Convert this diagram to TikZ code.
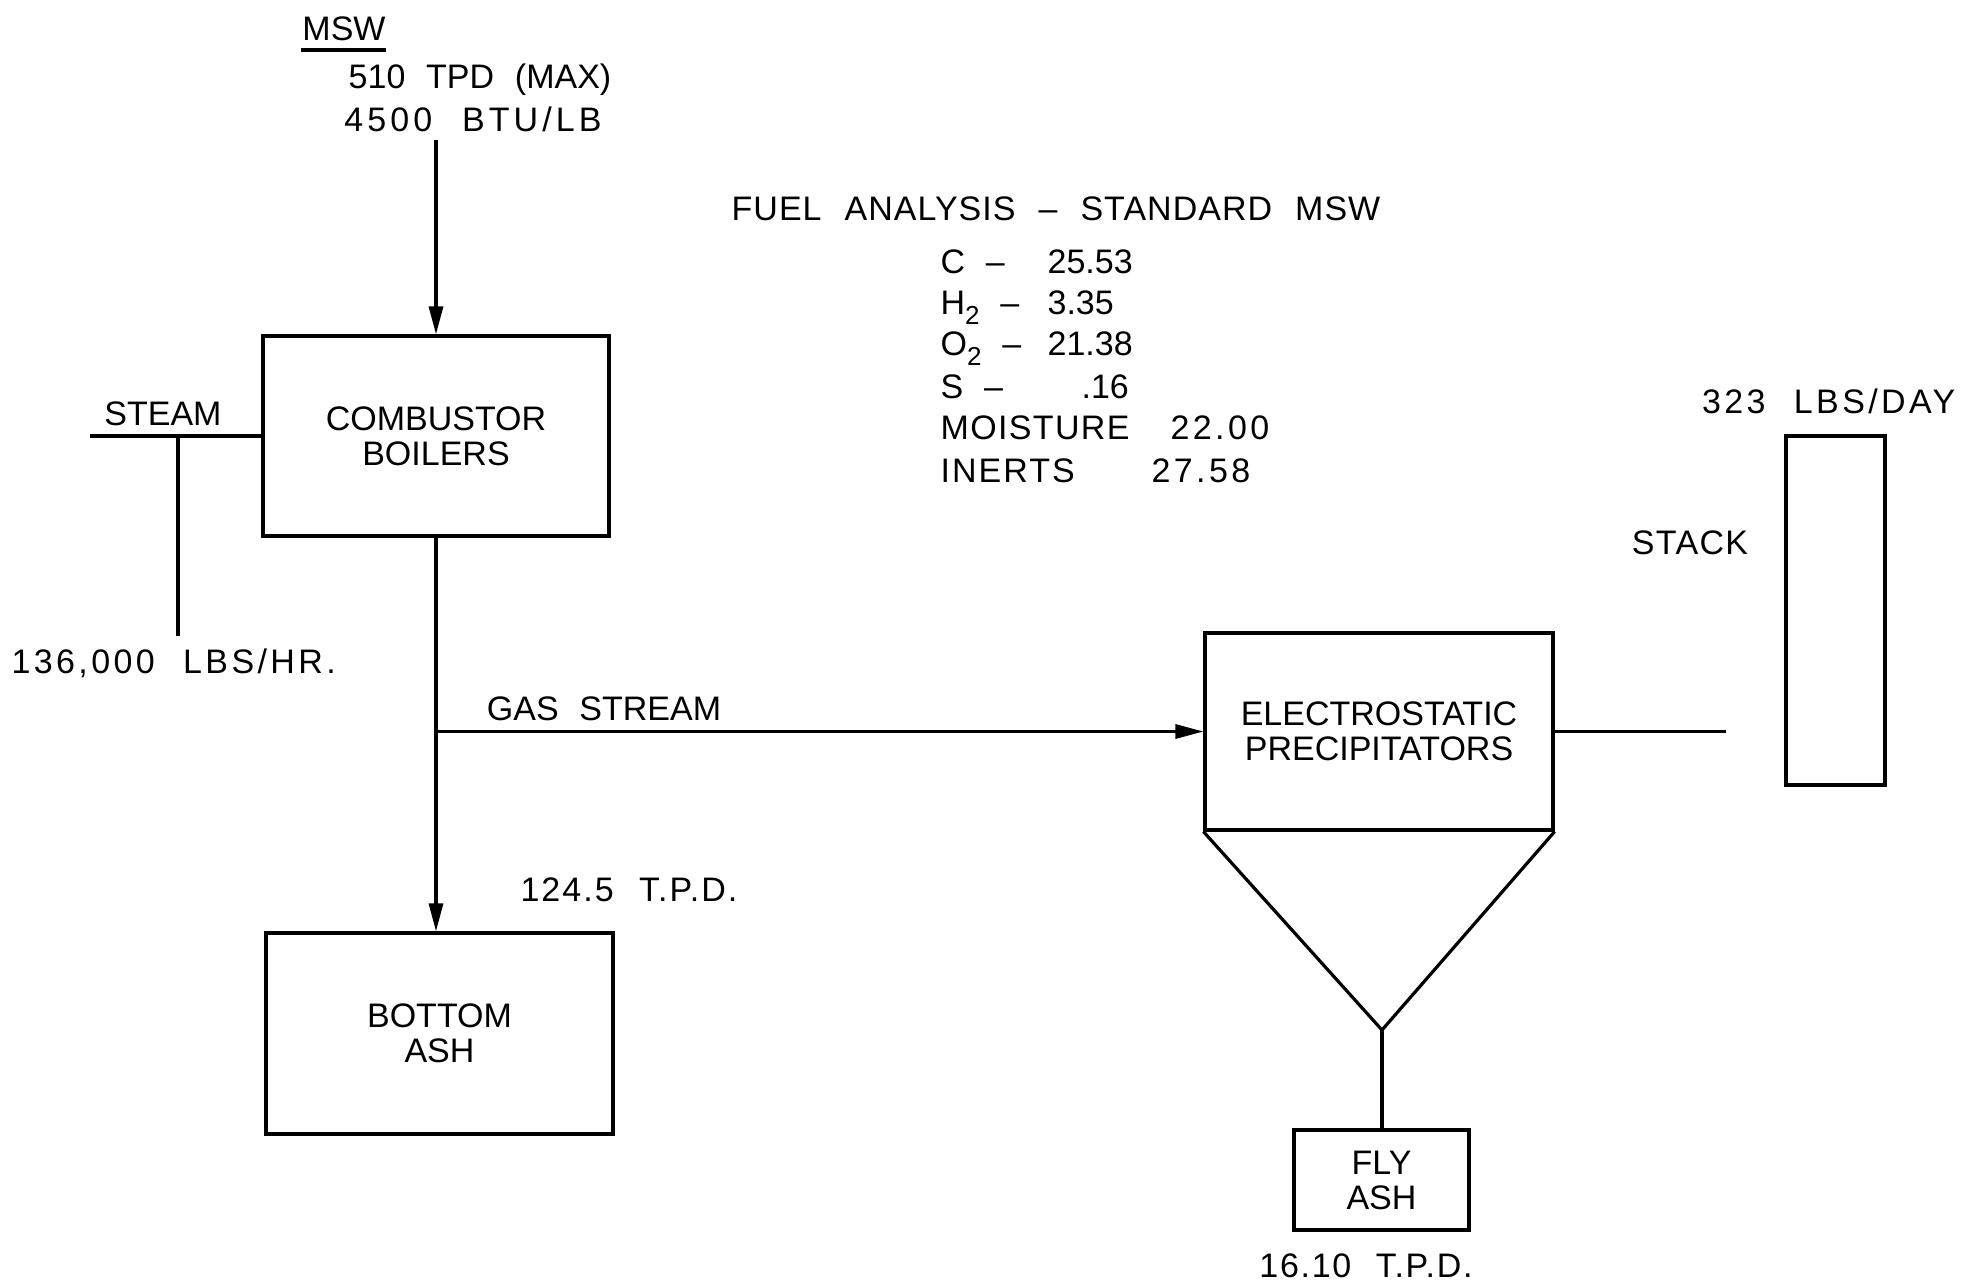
\documentclass[tikz,border=0pt]{standalone}
\usepackage{fontspec}
\setmainfont{Liberation Sans}[WordSpace=2.2]
\usetikzlibrary{arrows.meta}
\newcommand\lblfont{\fontsize{17}{17.5}\selectfont}
\newcommand\subtwo{\raisebox{-5pt}{\fontsize{13}{13}\selectfont 2}}
\begin{document}
\begin{tikzpicture}[x=0.5pt,y=-0.5pt, line width=1.6pt,
  box/.style={draw, line width=1.6pt, inner sep=0pt, align=center, font=\lblfont},
  lbl/.style={inner sep=0pt, font=\lblfont, anchor=base},
  ls/.style={font={\lblfont\addfontfeatures{LetterSpace=#1}}},
  arr/.style={-{Triangle[length=14pt,width=7pt]}}]
\useasboundingbox[fill=white] (0,0) rectangle (1964,1282);

% boxes
\node[box, minimum width=173pt, minimum height=100pt] (comb) at (436,436) {COMBUSTOR\\BOILERS};
\node[box, minimum width=173.5pt, minimum height=100.5pt] (bash) at (439.5,1033.5) {BOTTOM\\ASH};
\node[box, minimum width=174pt, minimum height=98.5pt] (esp) at (1379,731.5) {ELECTROSTATIC\\PRECIPITATORS};
\node[box, minimum width=87.5pt, minimum height=50pt] (fly) at (1381.5,1180) {FLY\\ASH};
\node[box, minimum width=49.5pt, minimum height=174.5pt] (stack) at (1835.5,610.5) {};

% labels
\node[lbl] (msw) at (344,40) {MSW};
\node[lbl] (tpd) at (480,88) {510 TPD (MAX)};
\node[lbl, ls=12] (btu) at (473,131) {4500 BTU/LB};
\node[lbl] (steam) at (163,425) {STEAM};
\node[lbl, ls=10, anchor=base west] (lbshr) at (10,673) {136,000 LBS/HR.};
\node[lbl] (gas) at (604,720) {GAS STREAM};
\node[lbl, ls=6] (bat) at (629,901) {124.5 T.P.D.};
\node[lbl, ls=5] (flt) at (1366,1277) {16.10 T.P.D.};
\node[lbl, ls=10, anchor=base east] (lbsday) at (1957,413) {323 LBS/DAY};
\node[lbl, ls=4] (stacklbl) at (1690,554) {STACK};
\node[lbl, ls=3] (fuel) at (1056,220) {FUEL ANALYSIS – STANDARD MSW};

\node[lbl, anchor=base west] (fc) at (939,273) {C –};
\node[lbl, anchor=base west] (fh) at (939,314) {H\subtwo{} –};
\node[lbl, anchor=base west] (fo) at (939,355) {O\subtwo{} –};
\node[lbl, anchor=base west] (fs) at (939,398) {S –};
\node[lbl, ls=4, anchor=base west] (fm) at (939,439) {MOISTURE};
\node[lbl, ls=6, anchor=base west] (fi) at (939,482) {INERTS};
\node[lbl, anchor=base west] (vc) at (1046,273) {25.53};
\node[lbl, anchor=base west] (vh) at (1046,314) {3.35};
\node[lbl, anchor=base west] (vo) at (1046,355) {21.38};
\node[lbl, anchor=base west] (vs) at (1080,398) {.16};
\node[lbl, ls=10, anchor=base west] (vm) at (1169,439) {22.00};
\node[lbl, ls=10, anchor=base west] (vi) at (1150,482) {27.58};

% MSW underline
\coordinate (ul1) at (301,50);
\coordinate (ul2) at (386,50);
\draw (ul1) -- (ul2);

% connectors
\coordinate (mswtop) at (436,140);
\draw[arr] (mswtop) -- (comb.north);
\draw[arr] (comb.south) -- (comb.south |- bash.north);
\coordinate (gj) at (comb.south |- esp.west);
\draw[arr] (gj) -- (esp.west);

\coordinate (steamL) at (90,436);
\draw (comb.west) -- (steamL);
\coordinate (steamT) at (178,436);
\coordinate (steamB) at (178,636);
\draw (steamT) -- (steamB);

\coordinate (apex) at (1382,1030);
\draw[line join=miter] (esp.south west) -- (apex) -- (esp.south east);
\draw (apex) -- (apex |- fly.north);

\coordinate (stkend) at (1726,731.5);
\draw (esp.east) -- (stkend);
\end{tikzpicture}
\end{document}
